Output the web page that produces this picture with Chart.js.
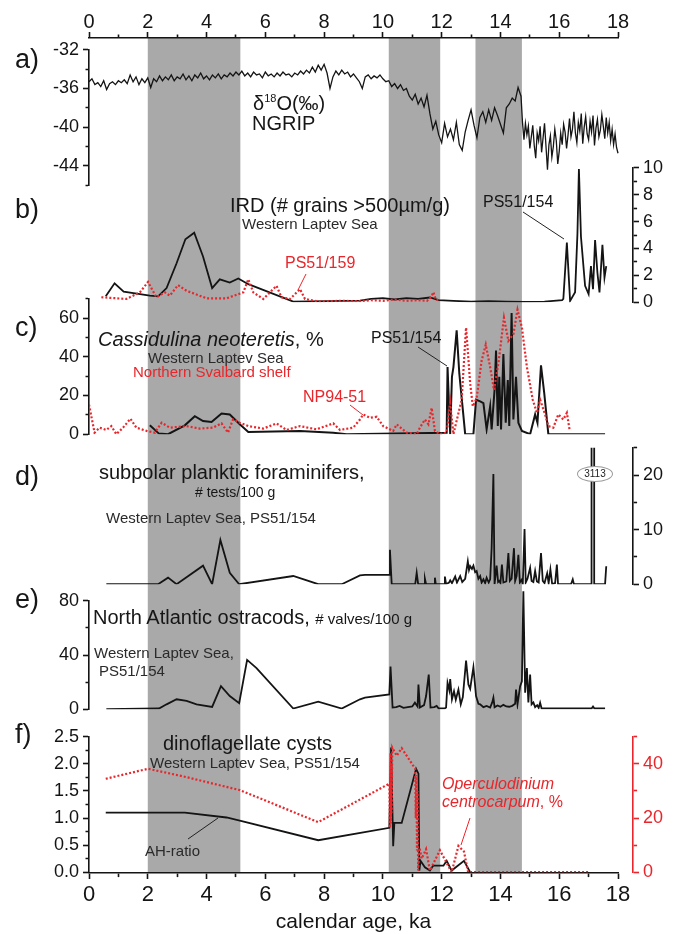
<!DOCTYPE html>
<html>
<head>
<meta charset="utf-8">
<script src="https://cdn.jsdelivr.net/npm/chart.js@4.4.1/dist/chart.umd.min.js"></script>
<style>
  body { margin: 0; background: #fff; }
  #fig { position: relative; width: 682px; height: 934px; overflow: hidden; font-family: "Liberation Sans", Arial, sans-serif; }
  #fig canvas { position: absolute; left: 0; }
  .t { position: absolute; white-space: nowrap; line-height: 1; color: #161616; }
  .big { font-size: 27px; }
  .ttl { font-size: 20px; }
  .sub { font-size: 15px; color: #2a2a2a; }
  .lbl { font-size: 16px; }
  .t.red { color: #e8262b; }
  #tag3113 { position: absolute; left: 577px; top: 466px; width: 34px; height: 14px; border: 1px solid #9a9a9a; border-radius: 50%;
             background: #fff; font-size: 10px; line-height: 14px; text-align: center; color: #222; }
  #leaders { position: absolute; left: 0; top: 0; pointer-events: none; }
</style>
</head>
<body>
<div id="fig">
  <canvas id="bg" width="682" height="934" style="top:0"></canvas>

  <div class="t big" style="left:15px;top:46px">a)</div>
  <div class="t big" style="left:15px;top:196px">b)</div>
  <div class="t big" style="left:15px;top:314px">c)</div>
  <div class="t big" style="left:15px;top:463px">d)</div>
  <div class="t big" style="left:15px;top:586px">e)</div>
  <div class="t big" style="left:15px;top:721px">f)</div>

  <div class="t ttl" style="left:253px;top:93px">&delta;<sup style="font-size:11px;vertical-align:8px">18</sup>O(&permil;)</div>
  <div class="t ttl" style="left:252px;top:113px">NGRIP</div>

  <div class="t ttl" style="left:230px;top:195px">IRD (# grains &gt;500&micro;m/g)</div>
  <div class="t sub" style="left:242px;top:216px">Western Laptev Sea</div>
  <div class="t lbl red" style="left:285px;top:255px">PS51/159</div>
  <div class="t lbl" style="left:483px;top:194px">PS51/154</div>

  <div class="t ttl" style="left:98px;top:329px"><i>Cassidulina neoteretis</i>, %</div>
  <div class="t sub" style="left:148px;top:350px">Western Laptev Sea</div>
  <div class="t sub red" style="left:133px;top:364px">Northern Svalbard shelf</div>
  <div class="t lbl" style="left:371px;top:330px">PS51/154</div>
  <div class="t lbl red" style="left:303px;top:389px">NP94-51</div>

  <div class="t ttl" style="left:99px;top:462px">subpolar planktic foraminifers,</div>
  <div class="t" style="left:195px;top:485px;font-size:14px">#&nbsp;tests/100 g</div>
  <div class="t sub" style="left:106px;top:510px">Western Laptev Sea, PS51/154</div>
  <div id="tag3113">3113</div>

  <div class="t ttl" style="left:93px;top:607px">North Atlantic ostracods, <span style="font-size:15px">#&nbsp;valves/100 g</span></div>
  <div class="t sub" style="left:94px;top:645px">Western Laptev Sea,</div>
  <div class="t sub" style="left:99px;top:663px">PS51/154</div>

  <div class="t ttl" style="left:163px;top:733px">dinoflagellate cysts</div>
  <div class="t sub" style="left:150px;top:755px">Western Laptev Sea, PS51/154</div>
  <div class="t sub" style="left:145px;top:843px">AH-ratio</div>
  <div class="t lbl red" style="left:442px;top:776px"><i>Operculodinium</i></div>
  <div class="t lbl red" style="left:442px;top:794px"><i>centrocarpum</i>, %</div>

  <svg id="leaders" width="682" height="934">
    <g stroke="#222" stroke-width="1">
      <line x1="523" y1="212" x2="564" y2="239"/>
      <line x1="418" y1="347" x2="447" y2="366"/>
      <line x1="188" y1="839" x2="218" y2="818"/>
    </g>
    <g stroke="#e8262b" stroke-width="1">
      <line x1="306" y1="274" x2="298" y2="290"/>
      <line x1="350" y1="405" x2="363" y2="415"/>
      <line x1="470" y1="818" x2="461" y2="845"/>
    </g>
  </svg>
</div>

<script>
// ---- data ---------------------------------------------------------------
const bandStart = [2.0, 10.2, 13.15];
const bandEnd   = [5.15, 11.95, 14.73];

// a) NGRIP d18O
const ngripAge = [
  0.0,0.1,0.2,0.3,0.4,0.5,0.6,0.7,0.8,0.9, 1.0,1.1,1.2,1.3,1.4,1.5,1.6,1.7,1.8,1.9,
  2.0,2.1,2.2,2.3,2.4,2.5,2.6,2.7,2.8,2.9, 3.0,3.1,3.2,3.3,3.4,3.5,3.6,3.7,3.8,3.9,
  4.0,4.1,4.2,4.3,4.4,4.5,4.6,4.7,4.8,4.9, 5.0,5.1,5.2,5.3,5.4,5.5,5.6,5.7,5.8,5.9,
  6.0,6.1,6.2,6.3,6.4,6.5,6.6,6.7,6.8,6.9, 7.0,7.1,7.2,7.3,7.4,7.5,7.6,7.7,7.8,7.9,
  8.0,8.1,8.2,8.3,8.4,8.5,8.6,8.7,8.8,8.9, 9.0,9.1,9.2,9.3,9.4,9.5,9.6,9.7,9.8,9.9,
  10.0,10.1,10.2,10.3,10.4,10.5,10.6,10.7,10.8,10.9, 11.0,11.1,11.2,11.3,11.4,11.5,11.6,11.7,11.8,11.9,
  12.0,12.1,12.2,12.3,12.4,12.5,12.6,12.7,12.8,12.9, 13.0,13.1,13.2,13.3,13.4,13.5,13.6,13.7,13.8,13.9,
  14.0,14.1,14.2,14.3,14.4,14.5,14.6,
  14.70,14.75,14.80,14.85,14.90,14.95,15.00,15.05,15.10,15.15,15.20,15.25,15.30,15.35,15.40,15.45,15.50,15.55,15.60,15.65,
  15.70,15.75,15.80,15.85,15.90,15.95,16.00,16.05,16.10,16.15,16.20,16.25,16.30,16.35,16.40,16.45,16.50,16.55,16.60,16.65,
  16.70,16.75,16.80,16.85,16.90,16.95,17.00,17.05,17.10,17.15,17.20,17.25,17.30,17.35,17.40,17.45,17.50,17.55,17.60,17.65,
  17.70,17.75,17.80,17.85,17.90,17.95,18.00
];
const ngripD18O = [
  -35.3,-35.0,-35.6,-35.4,-35.8,-35.2,-36.1,-35.5,-35.3,-35.6, -35.2,-35.4,-35.1,-35.5,-34.6,-35.3,-34.8,-35.6,-35.0,-35.4,
  -34.9,-35.9,-35.0,-35.3,-34.7,-35.2,-34.8,-35.1,-34.6,-35.2, -34.8,-35.0,-34.5,-35.1,-34.7,-35.2,-34.6,-34.9,-34.4,-35.0,
  -34.7,-35.1,-34.6,-34.9,-34.5,-35.0,-34.6,-34.8,-34.4,-34.7, -34.3,-34.6,-34.2,-34.7,-34.4,-34.8,-34.3,-34.6,-34.5,-34.9,
  -34.3,-34.7,-34.5,-34.8,-34.4,-34.7,-34.3,-34.6,-34.5,-34.8, -34.4,-34.6,-34.2,-34.5,-34.1,-34.4,-33.8,-34.3,-33.6,-34.1,
  -33.5,-34.4,-36.0,-34.8,-34.2,-34.6,-34.1,-34.5,-34.3,-34.8, -34.5,-34.9,-35.3,-36.0,-34.8,-34.6,-35.0,-34.7,-34.9,-34.6,
  -35.0,-35.3,-35.2,-35.8,-35.5,-36.0,-35.6,-36.2,-36.0,-36.8, -37.2,-36.6,-37.6,-37.0,-37.9,-36.7,-38.6,-40.2,-39.4,-40.8,
  -41.6,-39.6,-41.0,-40.2,-41.3,-39.5,-41.8,-42.4,-40.5,-39.3, -38.2,-39.8,-41.1,-39.0,-38.4,-39.5,-38.2,-39.3,-38.0,-38.8,
  -39.7,-40.6,-38.0,-37.6,-37.0,-37.3,-35.9,
  -36.8,-39.5,-41.3,-39.6,-40.8,-39.9,-42.2,-41.0,-39.8,-41.9,-43.2,-40.6,-41.4,-39.9,-42.6,-41.1,-39.6,-42.0,-44.4,-41.8,
  -40.9,-43.1,-42.0,-40.2,-41.4,-43.8,-42.5,-40.6,-41.8,-39.7,-40.5,-42.2,-40.8,-39.1,-41.0,-40.2,-38.4,-40.6,-41.6,-39.5,
  -40.4,-38.6,-41.7,-40.0,-38.9,-40.7,-41.3,-39.4,-40.5,-38.8,-41.9,-40.1,-39.2,-41.0,-40.3,-38.7,-39.9,-41.2,-39.0,-40.6,
  -39.5,-41.4,-40.2,-41.8,-40.7,-42.1,-42.7
];

// b) IRD
const ird154Age = [0.57,0.87,1.18,2.07,2.35,2.64,2.98,3.28,3.58,3.88,4.19,4.45,4.79,5.08,5.42,6.95,9.22,9.6,10.0,10.4,10.8,11.2,11.6,11.9,
  12.4,13.0,13.6,14.2,14.8,15.5,16.1,16.14,16.26,16.37,16.54,16.62,16.67,16.74,16.88,17.0,17.08,17.15,17.22,17.3,17.37,17.47,17.54,17.6];
const ird154 = [0.44,1.41,0.78,0.49,0.44,1.05,2.9,4.68,5.17,3.4,1.05,1.7,1.46,1.76,1.34,0.05,0.12,0.25,0.3,0.2,0.3,0.25,0.35,0.15,
  0.1,0.05,0.08,0.05,0.03,0.05,0.15,0.24,4.43,0.1,0.75,5.1,9.9,4.87,1.22,0.6,2.68,0.97,4.63,2.19,0.73,4.27,1.83,2.68];
const ird159Age = [0.42,1.27,1.73,2.01,2.29,2.58,2.75,3.03,3.32,4.0,4.68,5.25,5.42,5.59,5.93,6.38,6.55,6.84,7.18,7.35,7.8,8.5,9.2,9.6,
  10.0,10.4,10.8,11.2,11.5,11.65,11.72,11.8,11.95];
const ird159 = [0.37,0.24,0.73,1.51,0.37,0.73,0.49,1.27,0.85,0.29,0.29,0.73,1.7,0.73,0.24,1.22,0.37,0.24,0.97,0.24,0.05,0.1,0.08,0.15,
  0.1,0.2,0.1,0.15,0.1,0.4,0.75,0.2,0.1];

// c) Cassidulina neoteretis, %
const cn154Age = [2.07,2.38,2.69,3.26,3.6,3.88,4.17,4.51,4.79,5.13,5.42,7.18,8.31,8.77,12.17,12.2,12.29,12.35,12.4,12.51,12.6,12.72,12.8,
  13.08,13.17,13.31,13.42,13.53,13.65,13.7,13.8,13.85,13.91,13.96,14.02,14.1,14.18,14.25,14.3,14.38,14.44,14.53,14.61,14.73,
  15.01,15.18,15.26,15.38,15.49,15.63,17.56];
const cn154 = [4.6,0.3,0,4.6,9.3,6.8,6.3,10.7,10.2,5.1,1.2,1.7,0.8,0,0.8,34.7,0,29.7,34.7,53.7,31.4,12.7,0,
  0,17.8,17,16.1,2.5,14.4,2.5,22.9,43.2,4.2,29.7,2.5,41.5,5.9,28,4.2,62.7,7.6,29.7,5.9,1.7,
  0,10.2,5.9,35.6,21.2,0,0];
const cnNP9451Age = [0.0,0.19,0.36,0.59,0.76,0.93,1.16,1.41,1.61,1.96,2.24,2.47,2.75,3.32,3.77,4.22,4.51,4.73,4.9,5.13,5.42,5.93,6.38,
  6.72,7.18,7.74,8.31,8.54,8.99,9.22,9.33,9.56,9.79,10.01,10.35,10.47,10.81,11.15,11.26,11.43,11.55,11.66,11.77,11.94,12.17,
  12.29,12.4,12.68,12.83,12.97,13.06,13.19,13.36,13.5,13.65,13.78,13.93,14.12,14.27,14.44,14.58,14.73,14.9,15.1,15.24,15.35,
  15.52,15.63,15.8,15.97,16.14,16.26,16.35];
const cnNP9451 = [15.3,0.8,3.4,2.2,4.2,0,3.4,8,3.4,1.7,0.8,5.9,3.4,4.2,2.9,3.4,5.6,0.8,7.6,5.9,4.2,2.9,5.6,
  2.2,4.2,2.5,5.6,2.2,3.4,7.6,10.2,8.5,9,4.2,1.7,5.1,0.8,0,3.4,7.6,5.1,13.6,1.7,0,0.8,
  16.1,0,17.8,55.1,26.3,14.4,18.6,38.1,46.3,34.7,22.9,36.5,60.2,48.3,51.7,64.4,55.1,34.7,17.8,11,17.8,
  10.2,4.2,3.4,10.2,7.6,11,2.5];

// d) subpolar planktic foraminifers, # tests/100 g
const forAge = [0.59,2.35,2.69,2.98,3.88,4.19,4.47,4.79,5.11,6.95,7.8,8.6,9.22,9.39,10.22,10.24,10.3,11.1,11.15,11.2,11.4,11.43,11.47,
  11.75,11.77,11.8,12.08,12.11,12.15,12.25,12.29,12.35,12.46,12.52,12.63,12.7,12.8,12.89,12.93,12.97,13.03,13.08,13.14,13.19,
  13.25,13.31,13.36,13.42,13.48,13.53,13.6,13.65,13.7,13.76,13.8,13.87,13.92,13.96,14.0,14.05,14.1,14.2,14.27,14.32,14.38,
  14.46,14.5,14.55,14.61,14.66,14.72,14.76,14.82,14.86,14.92,15.01,15.06,15.12,15.18,15.24,15.3,15.38,15.44,15.5,15.59,
  15.64,15.7,15.76,15.86,15.92,15.96,16.4,16.46,16.5,17.1,17.13,17.16,17.19,17.56,17.6];
const forams = [0,0,1.2,0,3.4,0,8.1,2.1,0,1.5,0,0,1.6,1.7,1.7,6.3,0,0,2.1,0,0,1.0,0,
  0,1.2,0,0,1.4,0,0.3,0.7,0.2,1.4,0.3,1.5,0.4,1.0,4.2,2.6,3.3,2.8,3.4,2.2,2.4,
  1.0,1.5,0.3,0.9,0.2,1.2,0.3,0.9,6.6,20.2,0,3.4,0.4,0.6,0.2,3.6,0.3,0.5,5.7,0.6,1.0,
  6.6,0.6,1.5,5.4,0.3,0.8,0,10.1,0.3,1.0,3.0,0.6,0.4,2.4,0.5,0.3,5.7,0.6,0.2,2.0,
  0.2,2.7,0,0.2,3.6,0,0,0.9,0,0,3113,3113,0,0,3.3];

// e) North Atlantic ostracods, # valves/100 g
const ostAge = [0.59,2.38,2.64,2.98,3.32,3.66,4.19,4.49,4.79,5.11,5.38,5.7,6.95,7.8,8.6,9.22,9.39,10.22,10.26,10.33,10.45,10.57,10.7,
  10.85,11.0,11.09,11.18,11.21,11.26,11.4,11.47,11.56,11.62,11.75,11.83,11.9,12.1,12.15,12.2,12.26,12.29,12.35,12.42,12.48,
  12.57,12.65,12.72,12.83,12.91,12.97,13.08,13.17,13.25,13.31,13.42,13.53,13.65,13.72,13.76,13.8,13.9,14.0,14.1,14.2,14.3,
  14.4,14.5,14.53,14.58,14.67,14.73,14.78,14.84,14.9,14.95,15.01,15.06,15.12,15.18,15.25,15.3,15.35,15.4,17.1,17.15,17.2,17.56];
const ostracods = [0,0.5,3.6,7.3,6.1,3.6,1.7,17,9.7,4.4,36.4,30.3,0.5,5.6,0.5,7.3,8.5,10.9,31.5,1.2,1.5,2.4,1.0,
  1.5,2.0,4.8,2.0,18.2,1.2,3.0,9.7,25.5,1.2,1.5,2.4,0.5,0.5,1.2,19.4,14,22.3,7.3,13.3,7,
  14.5,3.6,9,35.9,18.2,15,31,9.7,4,3.6,1.5,2.4,1.2,5,8.5,1.5,2.8,1.8,3.2,2.0,1.8,
  2.5,4,14.5,3.6,17,20.6,87,12.1,30.3,5,25.5,3.6,5,1.5,3,1,4.8,0.5,0.5,2,0.5,0.5];

// f) dinoflagellate cysts
const ahAge = [0.57,3.26,4.68,5.13,7.8,10.22,10.28,10.35,10.39,10.64,11.13,11.21,11.24,11.28,11.43,11.6,11.71,12.06,12.17,12.34,12.76,12.97];
const ahRatio = [1.10,1.10,1.01,0.95,0.59,0.82,2.30,0.48,0.91,0.91,1.91,1.82,0.03,0.21,0.09,0.03,0.12,0.12,0.21,0.03,0.21,0.0];
const ocAge = [0.57,2.01,3.32,5.13,7.8,10.22,10.24,10.26,10.27,10.29,10.3,10.32,10.47,10.64,11.1,11.12,11.14,11.16,11.18,11.2,11.25,
  11.32,11.47,11.6,11.94,12.34,12.57,12.76,12.9,17.05];
const ocPct = [34.5,38.2,35.1,30.3,18.5,32.7,16.4,44,18,40,22,46,43,45.8,38.2,20,36,8,30,0.6,9,
  5,8.5,0.6,8.1,0,9.7,7.6,0,0];

// axis tick labels
const ageTicks = [0, 2, 4, 6, 8, 10, 12, 14, 16, 18];
const ngripTicks = [-32, -36, -40, -44];
const irdTicks = [0, 2, 4, 6, 8, 10];
const cnTicks = [0, 20, 40, 60];
const forTicks = [0, 10, 20];
const ostTicks = [0, 40, 80];
const ahTicks = [0, 0.5, 1, 1.5, 2, 2.5];
const ocTicks = [0, 20, 40];

// ---- layout -------------------------------------------------------------
const W = 682, H = 934;
const LEFT = 89, X18 = 618, RAXIS = 633;          // x=0, x=18 and right axes (px)
const PLOT_TOP = 38, PLOT_BOTTOM = 873;
const PAD = 14, TICK = 6, MINOR = 3.5;
const FONT = '"Liberation Sans", Arial, sans-serif';
const BLACK = '#141414', RED = '#e8262b';
const PANEL_XMAX = 18 * (RAXIS - LEFT) / (X18 - LEFT);

function minorDash(pos) {
  // tick lines go outer->axis for left/top, axis->outer for right/bottom
  return (pos === 'left' || pos === 'top') ? [0, TICK - MINOR, MINOR, 100] : [MINOR, 100];
}

function pts(xs, ys) {
  return xs.map((x, i) => ({x: x, y: ys[i]}));
}

function line(xs, ys, color, axis, extra) {
  return Object.assign({
    data: pts(xs, ys),
    yAxisID: axis,
    borderColor: color,
    borderWidth: 1.8,
    pointRadius: 0,
    tension: 0,
    fill: false
  }, extra || {});
}

function dotted(xs, ys, axis) {
  return line(xs, ys, RED, axis, {borderDash: [2, 2], borderWidth: 2.2});
}

function yAxis(pos, min, max, step, labels, color, fmt) {
  const isLabel = v => labels.some(l => Math.abs(l - v) < 1e-6);
  return {
    type: 'linear', position: pos, min: min, max: max,
    afterFit: s => { s.width = pos === 'left' ? LEFT : W - RAXIS; },
    border: {display: true, color: color, width: 1.6},
    grid: {
      drawOnChartArea: false, drawTicks: true, tickLength: TICK, tickWidth: 1.6, tickColor: color,
      tickBorderDash: c => (c.tick && isLabel(c.tick.value)) ? [] : minorDash(pos)
    },
    ticks: {
      stepSize: step, autoSkip: false, color: color, padding: 4,
      font: {family: FONT, size: 18},
      callback: v => isLabel(v) ? (fmt ? fmt(v) : String(v)) : ''
    }
  };
}

function xAxis(pos, size, pad) {
  const isLabel = v => ageTicks.includes(Math.round(v * 1000) / 1000);
  return {
    type: 'linear', position: pos, min: 0, max: 18,
    afterFit: s => { s.height = pos === 'top' ? PLOT_TOP : H - PLOT_BOTTOM; },
    border: {display: true, color: BLACK, width: 1.6},
    grid: {
      drawOnChartArea: false, tickLength: TICK, tickWidth: 1.6, tickColor: BLACK,
      tickBorderDash: c => (c.tick && isLabel(c.tick.value)) ? [] : minorDash(pos)
    },
    ticks: {
      stepSize: 1, autoSkip: false, maxRotation: 0, color: BLACK, padding: pad,
      font: {family: FONT, size: size, lineHeight: 1},
      callback: v => isLabel(v) ? String(v) : ''
    }
  };
}

const bandPlugin = {
  id: 'bands',
  beforeDraw(chart) {
    const {ctx, chartArea, scales} = chart;
    const x = scales.x;
    ctx.save();
    ctx.fillStyle = '#a9a9a9';
    bandStart.forEach((s, i) => {
      const x0 = x.getPixelForValue(s), x1 = x.getPixelForValue(bandEnd[i]);
      ctx.fillRect(x0, chartArea.top, x1 - x0, chartArea.bottom - chartArea.top);
    });
    ctx.restore();
  }
};

const common = {
  responsive: false,
  animation: false,
  events: [],
  plugins: {legend: {display: false}, tooltip: {enabled: false}}
};

// background: shared age axes + grey intervals
const bottomAxis = xAxis('bottom', 22, 5);
bottomAxis.title = {display: true, text: 'calendar age, ka', color: BLACK,
  font: {family: FONT, size: 21, lineHeight: 1}, padding: {top: 0, bottom: 1}};
new Chart(document.getElementById('bg'), {
  type: 'line',
  data: {datasets: []},
  options: Object.assign({}, common, {
    layout: {padding: {left: LEFT, right: W - X18, top: 0, bottom: 0}},
    scales: {
      x: bottomAxis,
      x2: xAxis('top', 20, 0),
      y: {display: false, min: 0, max: 1}
    }
  }),
  plugins: [bandPlugin]
});

// one transparent canvas per panel, stacked on the background
function panel(id, top, bottom, datasets, left, right) {
  const cv = document.createElement('canvas');
  cv.id = id;
  cv.width = W;
  cv.height = bottom - top + 2 * PAD;
  cv.style.top = (top - PAD) + 'px';
  document.getElementById('fig').insertBefore(cv, document.querySelector('#fig .t'));
  const scales = {x: {type: 'linear', min: 0, max: PANEL_XMAX, display: false}};
  if (left) scales.yl = left;
  if (right) scales.yr = right;
  new Chart(cv, {
    type: 'line',
    data: {datasets: datasets},
    options: Object.assign({}, common, {
      layout: {padding: {left: left ? 0 : LEFT, right: right ? 0 : W - RAXIS, top: PAD, bottom: PAD}},
      scales: scales
    })
  });
}

panel('pa', 49, 186,
  [line(ngripAge, ngripD18O, BLACK, 'yl', {borderWidth: 1.3})],
  yAxis('left', -46, -32, 2, ngripTicks, BLACK), null);

panel('pb', 167, 303,
  [dotted(ird159Age, ird159, 'yr'), line(ird154Age, ird154, BLACK, 'yr')],
  null, yAxis('right', 0, 10, 1, irdTicks, BLACK));

panel('pc', 298, 435,
  [dotted(cnNP9451Age, cnNP9451, 'yl'), line(cn154Age, cn154, BLACK, 'yl', {borderWidth: 2})],
  yAxis('left', 0, 70, 10, cnTicks, BLACK), null);

panel('pd', 447, 585,
  [line(forAge, forams, BLACK, 'yr')],
  null, yAxis('right', 0, 25, 5, forTicks, BLACK));

panel('pe', 600, 710,
  [line(ostAge, ostracods, BLACK, 'yl', {clip: {left: 0, top: 12, right: 0, bottom: 0}})],
  yAxis('left', 0, 80, 20, ostTicks, BLACK), null);

panel('pf', 736, 873,
  [dotted(ocAge, ocPct, 'yr'), line(ahAge, ahRatio, BLACK, 'yl')],
  yAxis('left', 0, 2.5, 0.25, ahTicks, BLACK, v => v.toFixed(1)),
  yAxis('right', 0, 50, 10, ocTicks, RED));
</script>
</body>
</html>
